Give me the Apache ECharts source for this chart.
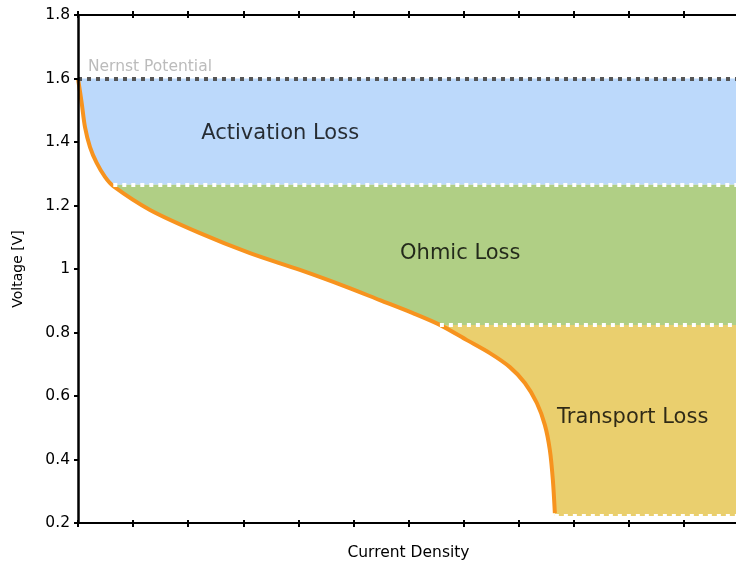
<!DOCTYPE html>
<html>
<head>
<meta charset="utf-8">
<script src="https://cdn.jsdelivr.net/npm/echarts@6/dist/echarts.min.js"></script>
<style>
  html, body { margin: 0; padding: 0; background: #fff; }
  #chart { width: 736px; height: 561px; }
</style>
</head>
<body>
<div id="chart"></div>
<script>
// polarisation curve (x = current density in tick units, y = voltage)
var curveX = [0, 0.067, 0.127, 0.218, 0.339, 0.49, 0.641, 1.307, 2.214, 3.122, 4.029, 4.882, 5.481, 6.08, 6.57, 7.06, 7.477, 7.84, 8.113, 8.33, 8.475, 8.566, 8.621, 8.657]
var curveY = [1.6, 1.523, 1.447, 1.384, 1.334, 1.29, 1.261, 1.186, 1.113, 1.05, 0.997, 0.943, 0.902, 0.861, 0.824, 0.776, 0.735, 0.691, 0.641, 0.578, 0.509, 0.43, 0.335, 0.231]

// loss bands: boundaries and where each dotted boundary starts
var bandNames = ['Activation Loss', 'Ohmic Loss', 'Transport Loss']
var bandEdges = [1.6, 1.265, 0.824, 0.222]
var edgeStarts = [0, 0.641, 6.57, 8.657]
var bandColors = ['#bcd9fb', '#b0cf85', '#eacf6e']
var bandLabelX = [3.67, 6.94, 10.07]
var bandLabelY = [1.428, 1.05, 0.531]

var yTicks = [0.2, 0.4, 0.6, 0.8, 1, 1.2, 1.4, 1.6, 1.8]

var font = 'DejaVu Sans'

var chart = echarts.init(document.getElementById('chart'))

function xAx(pos, inside, show) {
  return {
    type: 'value', position: pos, min: 0, max: 12, interval: 1, z: 10,
    axisLine: { show: show, onZero: false, lineStyle: { color: '#000', width: 2 } },
    axisTick: { show: true, inside: inside, length: inside ? 3 : 4, lineStyle: { color: '#000', width: 2 } },
    axisLabel: { show: false },
    splitLine: { show: false },
    name: show && pos === 'bottom' ? 'Current Density' : '',
    nameLocation: 'middle', nameGap: 22,
    nameTextStyle: { fontFamily: font, fontSize: 15.5, color: '#000' }
  }
}

function yAx(inside, show) {
  return {
    type: 'value', min: yTicks[0], max: yTicks[yTicks.length - 1], interval: 0.2, z: 10,
    axisLine: { show: show, lineStyle: { color: '#000', width: 2.5 } },
    axisTick: { show: true, inside: inside, length: inside ? 2 : 4, lineStyle: { color: '#000', width: 2 } },
    axisLabel: {
      show: show, fontFamily: font, fontSize: 15.5, color: '#000', margin: 8,
      formatter: function (v) { return String(+v.toFixed(1)) }
    },
    splitLine: { show: false },
    name: show ? 'Voltage [V]' : '',
    nameLocation: 'middle', nameGap: 53,
    nameTextStyle: { fontFamily: font, fontSize: 14, color: '#000' }
  }
}

var areas = bandNames.map(function (n, i) {
  return [
    { xAxis: 0, yAxis: bandEdges[i], itemStyle: { color: bandColors[i] } },
    { xAxis: 12, yAxis: bandEdges[i + 1] }
  ]
})

var labelPts = bandNames.map(function (n, i) {
  return {
    value: [bandLabelX[i], bandLabelY[i]],
    label: { formatter: n, fontSize: 21, color: '#000', align: 'center' }
  }
})
labelPts.push({
  value: [0.18, 1.636],
  label: { formatter: 'Nernst Potential', fontSize: 15.5, color: '#aaa', align: 'left' }
})

var edgeLines = bandEdges.map(function (e, i) {
  return [
    { coord: [edgeStarts[i], e], lineStyle: { color: i === 0 ? '#555' : '#fff' } },
    { coord: [12, e] }
  ]
})

chart.setOption({
  animation: false,
  grid: { left: 78, top: 15, width: 661, bottom: 38, outerBoundsMode: 'none', containLabel: false },
  xAxis: [xAx('bottom', false, true), xAx('bottom', true, false), xAx('top', false, true), xAx('top', true, false)],
  yAxis: [yAx(false, true), yAx(true, false)],
  series: [
    {
      type: 'line', data: [], z: 1, silent: true,
      markArea: { silent: true, data: areas }
    },
    {
      type: 'line', z: 2, silent: true,
      data: curveX.map(function (x, i) { return [x, curveY[i]] }),
      smooth: 0.3, symbol: 'none',
      lineStyle: { color: '#f7931e', width: 4 },
      areaStyle: { color: '#fff', opacity: 1, origin: 'start' }
    },
    {
      type: 'line', data: [], z: 3, silent: true,
      markLine: {
        silent: true, symbol: 'none', label: { show: false },
        lineStyle: { type: [4, 5], width: 4 },
        data: edgeLines
      }
    },
    {
      type: 'scatter', z: 4, silent: true, symbolSize: 0,
      label: { show: true, position: 'inside', fontFamily: font, verticalAlign: 'middle', textBorderWidth: 0 },
      data: labelPts
    }
  ]
})
</script>
</body>
</html>
